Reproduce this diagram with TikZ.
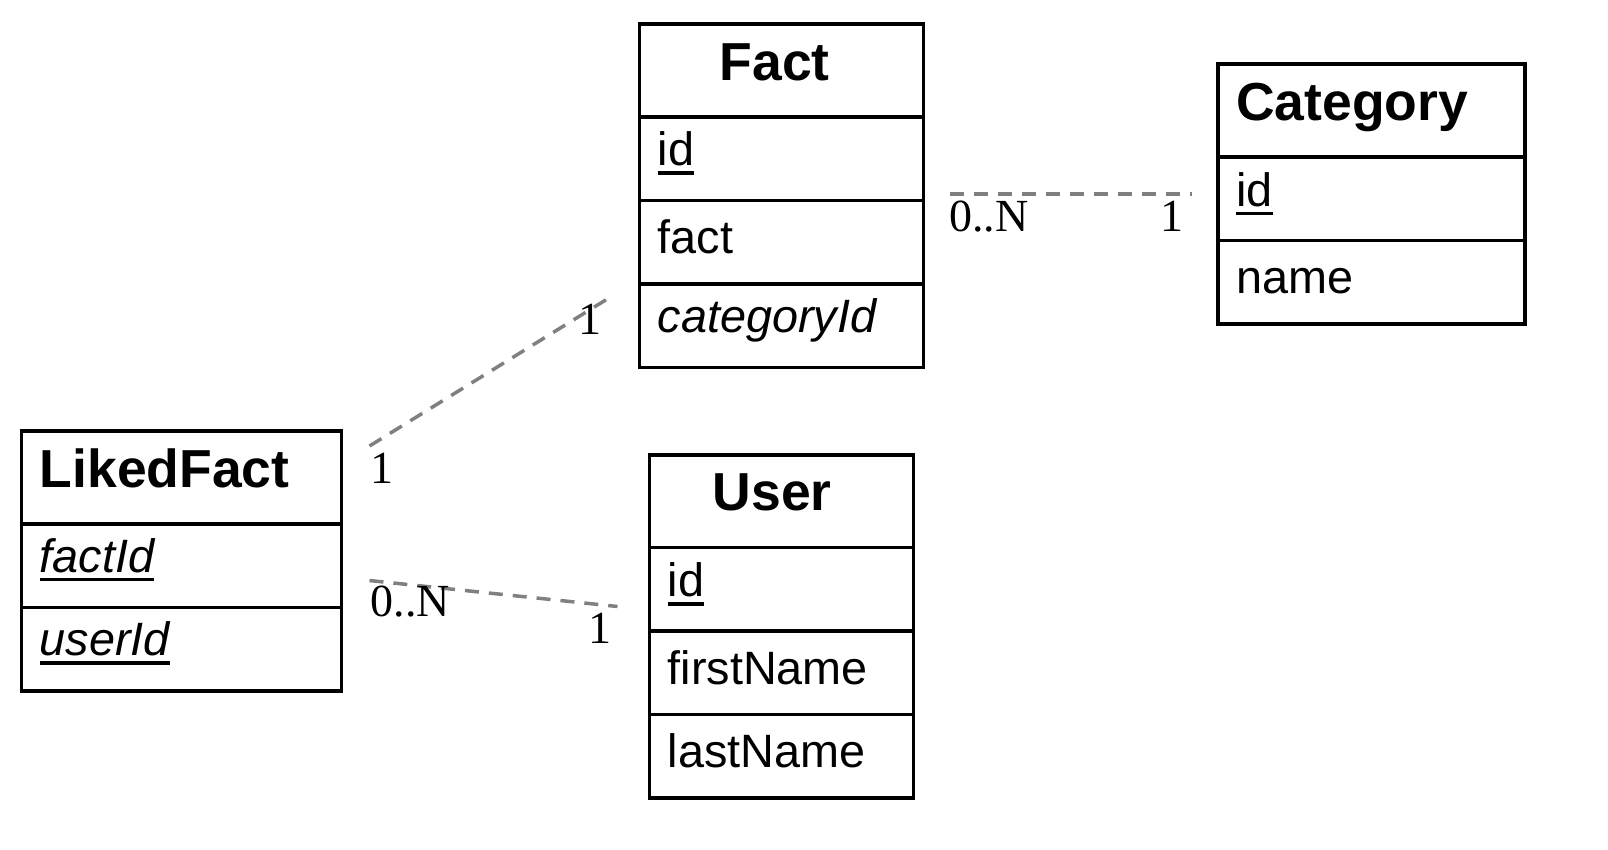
\documentclass[tikz,border=0pt]{standalone}
\usepackage{fontspec}
\setmainfont{Liberation Serif}
\newfontfamily\arialfont{Liberation Sans}
\newcommand\keyul[1]{\setbox0\hbox{#1}\rlap{\copy0}\rule[-9pt]{\wd0}{3.5pt}}
\definecolor{relgray}{HTML}{808080}
\begin{document}
\begin{tikzpicture}[x=1pt,y=-1pt,
  cell/.style={draw=black, line width=3.5pt, rectangle, inner sep=0pt, outer sep=0pt, anchor=north west},
  hcell/.style={cell, minimum height=93pt},
  rcell/.style={cell, minimum height=83.5pt},
  title/.style={font=\arialfont\bfseries\fontsize{53.5}{60}\selectfont, anchor=base west, inner sep=0pt},
  attr/.style={font=\arialfont\fontsize{46.8}{54}\selectfont, anchor=base west, inner sep=0pt},
  mult/.style={font=\fontsize{46}{52}\selectfont, anchor=base west, inner sep=0pt},
  rel/.style={draw=relgray, line width=3.5pt, dash pattern=on 14pt off 10pt}]
\useasboundingbox (0,0) rectangle (1608,849);

% Fact
\node[hcell, minimum width=284pt] (factT) at (639.5,24) {};
\node[rcell, minimum width=284pt] (factR1) at (factT.south west) {};
\node[rcell, minimum width=284pt] (factR2) at (factR1.south west) {};
\node[rcell, minimum width=284pt] (factR3) at (factR2.south west) {};
\node[title] (factTitle) at ([shift={(80,56)}]factT.north west) {Fact};
\node[attr] (factId) at ([shift={(18,48.5)}]factR1.north west) {\keyul{id}};
\node[attr] (factFact) at ([shift={(18,53)}]factR2.north west) {fact};
\node[attr] (factCat) at ([shift={(18,48)}]factR3.north west) {\itshape categoryId};

% Category
\node[hcell, minimum width=307pt] (catT) at (1218,64) {};
\node[rcell, minimum width=307pt] (catR1) at (catT.south west) {};
\node[rcell, minimum width=307pt] (catR2) at (catR1.south west) {};
\node[title] (catTitle) at ([shift={(18,56)}]catT.north west) {Category};
\node[attr] (catId) at ([shift={(18,49)}]catR1.north west) {\keyul{id}};
\node[attr] (catName) at ([shift={(18,53)}]catR2.north west) {name};

% LikedFact
\node[hcell, minimum width=320pt] (likedT) at (21.5,431) {};
\node[rcell, minimum width=320pt] (likedR1) at (likedT.south west) {};
\node[rcell, minimum width=320pt] (likedR2) at (likedR1.south west) {};
\node[title] (likedTitle) at ([shift={(18,56)}]likedT.north west) {LikedFact};
\node[attr] (likedFactId) at ([shift={(18,48)}]likedR1.north west) {\keyul{\itshape factId}};
\node[attr] (likedUserId) at ([shift={(18,48)}]likedR2.north west) {\keyul{\itshape userId}};

% User
\node[cell, minimum width=264pt, minimum height=92.5pt] (userT) at (649.5,455) {};
\node[rcell, minimum width=264pt] (userR1) at (userT.south west) {};
\node[rcell, minimum width=264pt] (userR2) at (userR1.south west) {};
\node[rcell, minimum width=264pt] (userR3) at (userR2.south west) {};
\node[title] (userTitle) at ([shift={(63,55)}]userT.north west) {User};
\node[attr] (userId) at ([shift={(18,49)}]userR1.north west) {\keyul{id}};
\node[attr] (userFirst) at ([shift={(18,53)}]userR2.north west) {firstName};
\node[attr] (userLast) at ([shift={(18,53)}]userR3.north west) {lastName};

% Relationship ends
\coordinate (fcA) at (949.5,194);
\coordinate (fcB) at (1192,194);
\coordinate (lfA) at (369.5,446);
\coordinate (lfB) at (610.5,297);
\coordinate (luA) at (369.5,580.5);
\coordinate (luB) at (617.5,606.5);

\draw[rel] (fcA) -- (fcB);
\draw[rel] (lfA) -- (lfB);
\draw[rel] (luA) -- (luB);

% Multiplicities
\node[mult] (fcMany) at (949,231) {0..N};
\node[mult] (fcOne) at (1160,231) {1};
\node[mult] (lfOneFact) at (578,334) {1};
\node[mult] (lfOneLiked) at (370,483) {1};
\node[mult] (luMany) at (370.5,616.5) {0..N};
\node[mult] (luOne) at (588,643.5) {1};
\end{tikzpicture}
\end{document}
